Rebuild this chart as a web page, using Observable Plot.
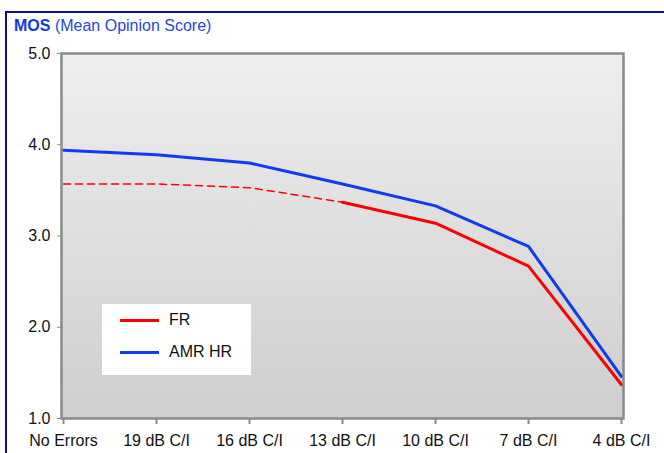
<!DOCTYPE html>
<html>
<head>
<meta charset="utf-8">
<script src="https://cdn.jsdelivr.net/npm/d3@7"></script>
<script src="https://cdn.jsdelivr.net/npm/@observablehq/plot@0.6"></script>
<style>
  html, body { margin: 0; padding: 0; background: #fff; }
  #wrap { position: relative; width: 664px; height: 453px; overflow: hidden; font-family: "Liberation Sans", Arial, sans-serif; }
  #border { position: absolute; left: 5px; top: 11px; width: 700px; height: 500px; border-left: 2px solid #0c0c8c; border-top: 2px solid #0c0c8c; }
  #title { position: absolute; left: 14px; top: 18px; font-size: 16px; line-height: 16px; color: #1f45e6; white-space: nowrap; }
  #title b { color: #1238e0; }
  #chart { position: absolute; left: 0; top: 0; }
  #legend { position: absolute; left: 102px; top: 304px; width: 149px; height: 71px; background: #fff; font-size: 16px; color: #111; }
  .lg { position: absolute; left: 18px; height: 3px; width: 39px; }
  .lt { position: absolute; left: 67px; line-height: 16px; }
</style>
</head>
<body>
<div id="wrap">
  <div id="border"></div>
  <div id="chart"></div>
  <div id="title"><b>MOS</b> (Mean Opinion Score)</div>
  <div id="legend"></div>
</div>
<script>
const categories = ["No Errors", "19 dB C/I", "16 dB C/I", "13 dB C/I", "10 dB C/I", "7 dB C/I", "4 dB C/I"];
const frValues = [3.57, 3.57, 3.53, 3.37, 3.14, 2.67, 1.37];
const amrHrValues = [3.94, 3.89, 3.80, 3.57, 3.33, 2.885, 1.46];
const yTicks = [1, 2, 3, 4, 5];
const seriesNames = ["FR", "AMR HR"];
const seriesColors = ["#ff0000", "#0f3cf0"];

const fr = categories.map((c, i) => ({cat: c, v: frValues[i], i}));
const amr = categories.map((c, i) => ({cat: c, v: amrHrValues[i], i}));
const frDashed = fr.filter(d => d.i <= 3);
const frSolid = fr.filter(d => d.i >= 3);

const chart = Plot.plot({
  width: 664,
  height: 453,
  marginLeft: 61,
  marginRight: 41,
  marginTop: 53,
  marginBottom: 35,
  style: {fontFamily: "'Liberation Sans', Arial, sans-serif", fontSize: "16px", background: "transparent", overflow: "visible"},
  x: {type: "point", domain: categories, padding: 0},
  y: {domain: [1, 5]},
  marks: [
    Plot.frame({fill: "url(#bgGrad)", stroke: null}),
    Plot.axisY({ticks: yTicks, tickFormat: d3.format(".1f"), tickSize: 4, tickPadding: 7, stroke: "#8a8a8a", fill: "#111", label: null}),
    Plot.axisX({tickSize: 6, tickPadding: 10, stroke: "#8a8a8a", strokeWidth: 2, fill: "#111", label: null}),
    Plot.line(frDashed, {x: "cat", y: "v", stroke: seriesColors[0], strokeWidth: 1.5, strokeDasharray: "7,5"}),
    Plot.line(frSolid, {x: "cat", y: "v", stroke: seriesColors[0], strokeWidth: 3}),
    Plot.line(amr, {x: "cat", y: "v", stroke: seriesColors[1], strokeWidth: 3}),
    Plot.frame({stroke: "#8a8a8a", strokeWidth: 2.5})
  ]
});

const defs = d3.select(chart).insert("defs", ":first-child");
const g = defs.append("linearGradient").attr("id", "bgGrad").attr("x1", 0).attr("y1", 0).attr("x2", 0).attr("y2", 1);
g.append("stop").attr("offset", "0%").attr("stop-color", "#eeeeee");
g.append("stop").attr("offset", "100%").attr("stop-color", "#cecece");

document.getElementById("chart").appendChild(chart);

const legend = document.getElementById("legend");
seriesNames.forEach((name, i) => {
  const top = 16 + i * 32;
  const ln = document.createElement("div");
  ln.className = "lg";
  ln.style.top = (top - 1.5) + "px";
  ln.style.background = seriesColors[i];
  legend.appendChild(ln);
  const t = document.createElement("div");
  t.className = "lt";
  t.style.top = (top - 8) + "px";
  t.textContent = name;
  legend.appendChild(t);
});
</script>
</body>
</html>
